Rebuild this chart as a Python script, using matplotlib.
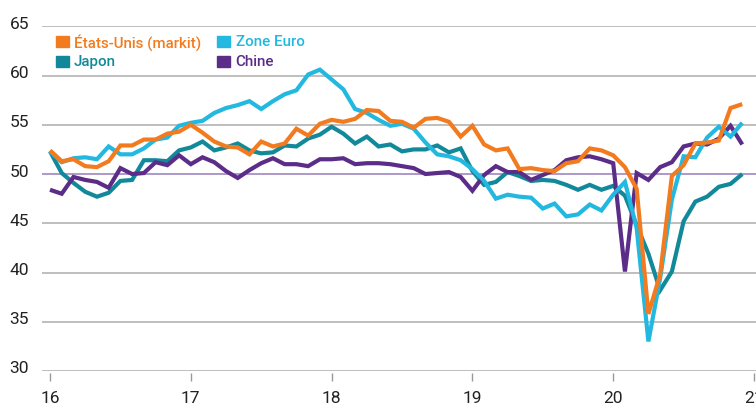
import matplotlib
matplotlib.use("Agg")
import matplotlib.pyplot as plt
from matplotlib.patches import Rectangle
from matplotlib.transforms import ScaledTranslation
import numpy as np

# Monthly PMI values, Jan 2016 - Dec 2020
etats_unis = [52.4, 51.3, 51.5, 50.8, 50.7, 51.3, 52.9, 52.9, 53.5, 53.5, 54.1, 54.3,
              55.0, 54.2, 53.3, 52.8, 52.7, 52.0, 53.3, 52.8, 53.1, 54.6, 53.9, 55.1,
              55.5, 55.3, 55.6, 56.5, 56.4, 55.4, 55.3, 54.7, 55.6, 55.7, 55.3, 53.8,
              54.9, 53.0, 52.4, 52.6, 50.5, 50.6, 50.4, 50.3, 51.1, 51.3, 52.6, 52.4,
              51.9, 50.7, 48.5, 35.8, 39.8, 49.8, 50.9, 53.1, 53.2, 53.4, 56.7, 57.1]
zone_euro = [52.3, 51.2, 51.6, 51.7, 51.5, 52.8, 52.0, 52.0, 52.6, 53.5, 53.7, 54.9,
             55.2, 55.4, 56.2, 56.7, 57.0, 57.4, 56.6, 57.4, 58.1, 58.5, 60.1, 60.6,
             59.6, 58.6, 56.6, 56.2, 55.5, 54.9, 55.1, 54.6, 53.2, 52.0, 51.8, 51.4,
             50.5, 49.3, 47.5, 47.9, 47.7, 47.6, 46.5, 47.0, 45.7, 45.9, 46.9, 46.3,
             47.9, 49.2, 44.5, 33.0, 39.4, 47.4, 51.8, 51.7, 53.7, 54.8, 53.8, 55.2]
japon = [52.3, 50.1, 49.1, 48.2, 47.7, 48.1, 49.3, 49.4, 51.4, 51.4, 51.3, 52.4,
         52.7, 53.3, 52.4, 52.7, 53.1, 52.4, 52.1, 52.2, 52.9, 52.8, 53.6, 54.0,
         54.8, 54.1, 53.1, 53.8, 52.8, 53.0, 52.3, 52.5, 52.5, 52.9, 52.2, 52.6,
         50.3, 48.9, 49.2, 50.2, 49.8, 49.3, 49.4, 49.3, 48.9, 48.4, 48.9, 48.4,
         48.8, 47.8, 44.8, 41.9, 38.2, 40.1, 45.2, 47.2, 47.7, 48.7, 49.0, 50.0]
chine = [48.4, 48.0, 49.7, 49.4, 49.2, 48.6, 50.6, 50.0, 50.1, 51.2, 50.9, 51.9,
         51.0, 51.7, 51.2, 50.3, 49.6, 50.4, 51.1, 51.6, 51.0, 51.0, 50.8, 51.5,
         51.5, 51.6, 51.0, 51.1, 51.1, 51.0, 50.8, 50.6, 50.0, 50.1, 50.2, 49.7,
         48.3, 49.9, 50.8, 50.2, 50.2, 49.4, 49.9, 50.4, 51.4, 51.7, 51.8, 51.5,
         51.1, 40.1, 50.1, 49.4, 50.7, 51.2, 52.8, 53.1, 53.0, 53.6, 54.9, 53.0]

year_labels = ["16", "17", "18", "19", "20", "21"]
series_names = ["États-Unis (markit)", "Zone Euro", "Japon", "Chine"]
y_ticks = [30, 35, 40, 45, 50, 55, 60, 65]

c_us = "#F37B1F"
c_eu = "#22B8DF"
c_jp = "#12899A"
c_cn = "#5C2D88"

plt.rcParams['font.family'] = ['Roboto', 'DejaVu Sans']

W, H = 756, 406
fig = plt.figure(figsize=(W / 100, H / 100), dpi=100)
left_px, right_px, top_px, bot_px = 41.7, 756, 27.3, 372
ax = fig.add_axes([left_px / W, (H - bot_px) / H, (right_px - left_px) / W, (bot_px - top_px) / H])

months = np.arange(len(etats_unis))
px_per_month = (754 - 50) / 60.0
ax.set_xlim((left_px - 50) / px_per_month, (right_px - 50) / px_per_month)
ax.set_ylim(30, 65)

# gridlines
for v in y_ticks:
    if v == 50:
        ax.axhline(v, color="#9E88C2", lw=1.2, zorder=1)
    else:
        ax.axhline(v, color="#B3B3B3", lw=1.2, zorder=1)

lw = 3.0
kw = dict(lw=lw, solid_joinstyle="miter", solid_capstyle="butt")
ax.plot(months, japon, color=c_jp, zorder=3, **kw)
ax.plot(months, chine, color=c_cn, zorder=4, **kw)
ax.plot(months, zone_euro, color=c_eu, zorder=5, **kw)
ax.plot(months, etats_unis, color=c_us, zorder=6, **kw)

for s in ax.spines.values():
    s.set_visible(False)
ax.spines['bottom'].set_position(('outward', 1.5))

ax.set_yticks(y_ticks)
ax.set_yticklabels([str(v) for v in y_ticks])
ax.tick_params(axis='y', length=0, pad=9, labelsize=12.5, labelcolor="#222222")
ax.set_xticks(np.arange(len(year_labels)) * 12)
ax.set_xticklabels(year_labels)
ax.tick_params(axis='x', length=6, width=1, color="#999999", pad=6,
               labelsize=12.5, labelcolor="#222222")

# y labels sit slightly above their gridlines
shift = ScaledTranslation(0, 4.5 / 100, fig.dpi_scale_trans)
for lab in ax.get_yticklabels():
    lab.set_transform(lab.get_transform() + shift)

# legend
def fx(px):
    return px / W

def fy(py):
    return (H - py) / H

legend_items = [
    (series_names[0], c_us, 56, 37),
    (series_names[1], c_eu, 217.5, 37),
    (series_names[2], c_jp, 56, 57),
    (series_names[3], c_cn, 217.5, 57),
]
for label, col, x0, y0 in legend_items:
    fig.patches.append(Rectangle((fx(x0), fy(y0 + 11)), 12.5 / W, 11 / H,
                                 transform=fig.transFigure, color=col, zorder=10))
    fig.text(fx(x0 + 18), fy(y0 + 5.5), label, color=col, fontsize=10.9,
             fontweight='medium', va='center', ha='left')

fig.savefig("out.png", dpi=100)
